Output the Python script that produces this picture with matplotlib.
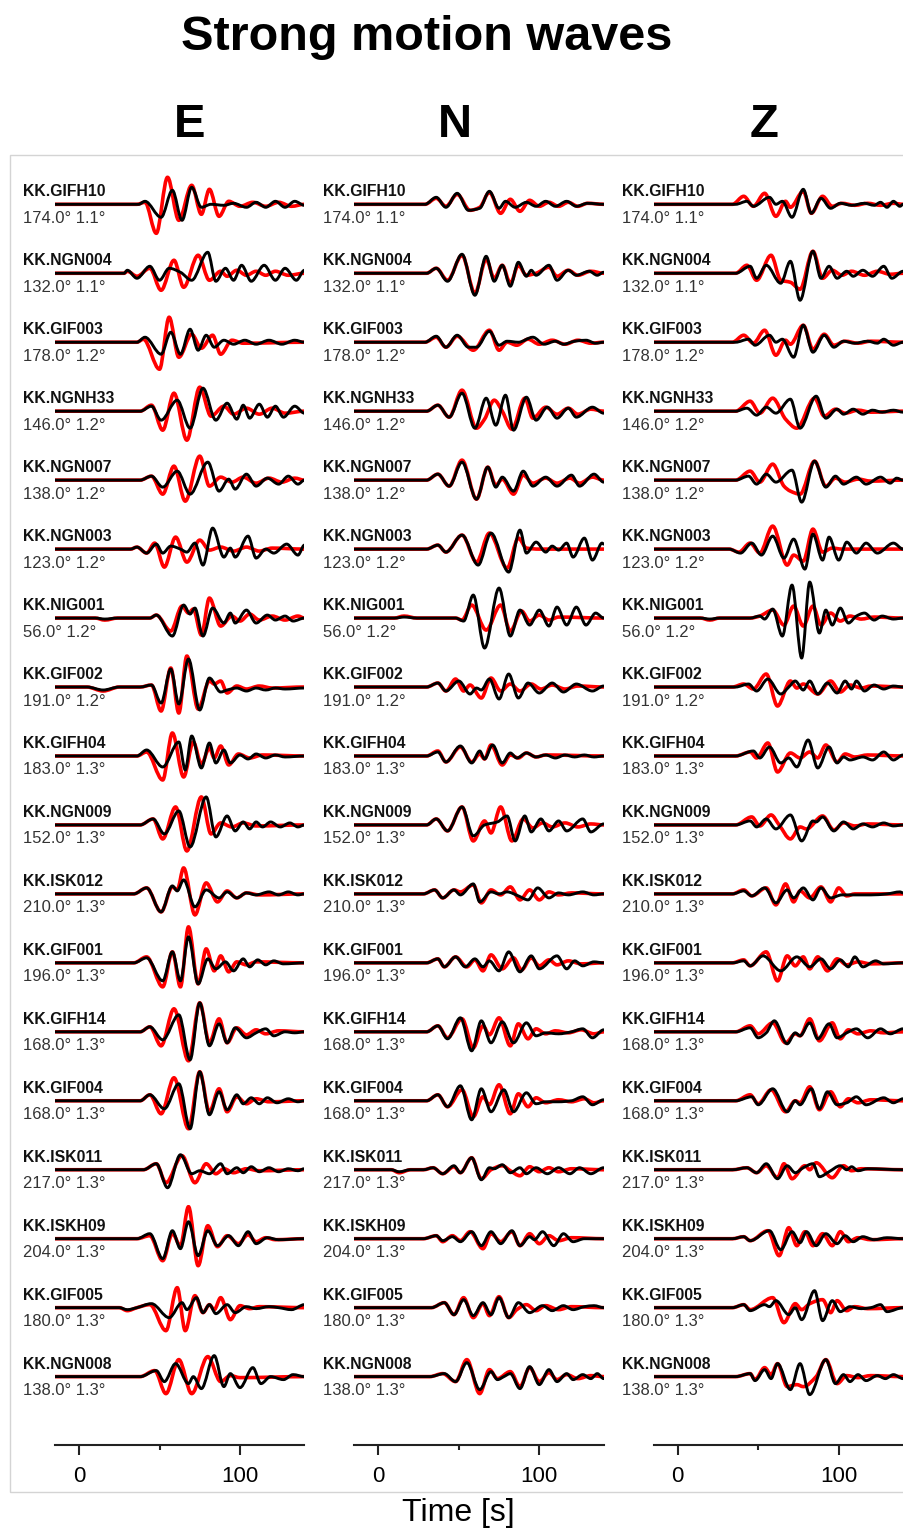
import matplotlib
matplotlib.use("Agg")
import matplotlib.pyplot as plt
from matplotlib.path import Path
from matplotlib.patches import PathPatch, Rectangle
from matplotlib.transforms import blended_transform_factory

plt.rcParams['font.family'] = ['Liberation Sans', 'DejaVu Sans']

stations = ["KK.GIFH10", "KK.NGN004", "KK.GIF003", "KK.NGNH33", "KK.NGN007",
            "KK.NGN003", "KK.NIG001", "KK.GIF002", "KK.GIFH04", "KK.NGN009",
            "KK.ISK012", "KK.GIF001", "KK.GIFH14", "KK.GIF004", "KK.ISK011",
            "KK.ISKH09", "KK.GIF005", "KK.NGN008"]
azimuth = [174.0, 132.0, 178.0, 146.0, 138.0, 123.0, 56.0, 191.0, 183.0,
           152.0, 210.0, 196.0, 168.0, 168.0, 217.0, 204.0, 180.0, 138.0]
distance = [1.1, 1.1, 1.2, 1.2, 1.2, 1.2, 1.2, 1.2, 1.3,
            1.3, 1.3, 1.3, 1.3, 1.3, 1.3, 1.3, 1.3, 1.3]

# record window [s]; each trace is a list of (time, amplitude) turning points
record_start, record_end = -15, 140

e_red = [
    [(36,0),(41,2),(48,-29),(55,27),(62,-16),(70,19),(76,-10),(81,15),(87,-12),(93,3),(100,-2),(108,2),(116,-2),(124,2),(132,-2),(140,0)],
    [(28,0),(30,2),(36,-3),(44,5),(51,-17),(59,13),(65,-14),(74,18),(81,-7),(88,2),(92,-3),(98,3),(104,-2),(110,2),(116,-2),(122,2),(130,-2),(140,0)],
    [(36,0),(40,3),(50,-27),(56,25),(62,-15),(70,8),(76,-6),(83,7),(88,-12),(95,2),(102,-1),(140,0)],
    [(38,0),(45,6),(52,-19),(59,18),(67,-29),(75,24),(82,-5),(90,5),(96,-3),(104,3),(112,-3),(120,3),(128,-2),(140,0)],
    [(38,0),(45,4),(52,-14),(59,14),(66,-21),(75,24),(81,-6),(88,3),(95,-2),(102,3),(110,-3),(118,2),(126,-2),(134,2),(140,0)],
    [(32,0),(36,2),(42,-4),(47,6),(53,-18),(60,12),(67,-13),(75,9),(81,-1),(88,2),(96,-2),(104,2),(112,-2),(120,1),(140,0)],
    [(10,0),(16,-2),(24,0),(44,0),(48,3),(57,-13),(64,12),(68,5),(71,9),(76,-17),(81,20),(88,-8),(95,2),(100,-3),(106,4),(112,-2),(120,2),(128,-2),(136,2),(140,0)],
    [(5,0),(15,-4),(25,0),(38,0),(45,2),(51,-24),(57,19),(62,-26),(67,31),(74,-22),(81,6),(84,3),(88,6),(92,-6),(98,1),(104,-2),(112,1),(120,-1),(140,0)],
    [(36,0),(42,4),(52,-24),(58,23),(65,-21),(71,14),(76,-8),(81,8),(84,-2),(88,10),(93,-9),(99,2),(106,-2),(114,1),(140,0)],
    [(38,0),(46,6),(52,-14),(60,18),(67,-26),(76,28),(82,-9),(88,2),(95,-2),(102,2),(110,-1),(140,0)],
    [(34,0),(42,6),(51,-18),(58,7),(61,4),(65,26),(72,-21),(79,11),(86,-8),(92,3),(98,-4),(104,1),(112,-1),(140,0)],
    [(34,0),(42,6),(52,-24),(58,11),(63,-24),(68,36),(74,-21),(79,14),(84,-8),(88,7),(93,-9),(98,1),(104,-2),(110,1),(140,0)],
    [(38,0),(44,5),(51,-14),(59,23),(68,-29),(75,29),(81,-11),(87,13),(92,-11),(98,4),(104,-3),(110,2),(116,-2),(124,1),(140,0)],
    [(38,0),(44,6),(51,-13),(59,23),(68,-28),(75,29),(81,-11),(87,12),(92,-11),(98,4),(104,-3),(110,2),(118,-1),(140,0)],
    [(40,0),(48,6),(54,-13),(64,14),(72,-13),(79,6),(85,-4),(90,1),(96,-3),(104,1),(112,-1),(140,0)],
    [(36,0),(44,3),(52,-22),(58,5),(63,-7),(68,32),(74,-27),(80,13),(86,-8),(92,3),(99,-5),(105,4),(110,-3),(116,1),(122,-1),(140,0)],
    [(25,0),(30,-3),(36,0),(44,3),(54,-23),(61,20),(66,-23),(72,12),(77,-5),(81,3),(84,-2),(88,10),(94,-12),(100,2),(106,-1),(112,1),(140,0)],
    [(38,0),(47,6),(54,-17),(62,17),(70,-17),(80,20),(88,-5),(94,1),(100,-1),(140,0)],
]

e_black = [
    [(37,0),(41,3),(51,-13),(58,14),(64,-16),(70,17),(76,-3),(82,0),(90,-1),(96,1),(104,-3),(110,2),(116,-3),(122,3),(128,-3),(134,3),(140,-1)],
    [(28,0),(30,3),(36,-5),(44,7),(50,-7),(56,5),(63,1),(70,-7),(80,21),(85,-8),(91,5),(96,-7),(101,8),(107,-8),(115,8),(122,-7),(128,5),(135,-7),(140,3)],
    [(36,0),(41,5),(51,-12),(57,10),(63,-12),(69,13),(74,-8),(79,7),(84,-5),(90,2),(96,-2),(103,2),(110,-2),(118,2),(126,-2),(134,2),(140,0)],
    [(38,0),(45,5),(51,-9),(61,11),(69,-17),(77,23),(85,-9),(92,8),(98,-8),(102,6),(106,-7),(112,7),(117,-6),(122,5),(127,-6),(134,5),(140,-2)],
    [(38,0),(45,4),(52,-7),(61,9),(69,-14),(80,18),(87,-11),(93,1),(97,-9),(104,6),(110,-6),(117,2),(124,-4),(130,4),(136,-4),(140,0)],
    [(32,0),(36,2),(42,-4),(48,5),(52,-4),(57,3),(63,0),(67,-3),(72,6),(77,-16),(83,21),(90,-8),(94,1),(97,-8),(105,13),(110,-9),(116,0),(121,-4),(129,5),(136,-6),(140,4)],
    [(10,0),(16,-1),(24,0),(44,0),(48,3),(58,-18),(65,13),(69,4),(72,10),(77,-18),(83,10),(90,-5),(94,5),(97,-5),(104,8),(110,-5),(117,3),(122,-2),(128,2),(133,-3),(140,0)],
    [(5,0),(15,-3),(25,0),(38,0),(45,2),(51,-16),(57,18),(62,-17),(68,28),(75,-23),(81,9),(88,-5),(92,-3),(98,-1),(104,-4),(110,-1),(116,-3),(122,-1),(128,-2),(140,-1)],
    [(36,0),(42,6),(52,-11),(62,14),(66,-14),(70,20),(76,-12),(81,13),(85,-7),(90,6),(94,-7),(100,1),(105,-3),(110,2),(116,-2),(122,1),(128,-1),(140,0)],
    [(38,0),(46,6),(53,-9),(62,14),(69,-22),(79,28),(85,-12),(92,9),(97,-6),(102,3),(106,-4),(110,3),(114,-2),(119,3),(125,-2),(131,2),(136,-2),(140,0)],
    [(34,0),(42,6),(51,-18),(58,8),(61,3),(65,14),(72,-13),(79,4),(87,-4),(92,2),(98,-4),(104,1),(110,-1),(118,2),(124,-1),(130,2),(136,-1),(140,0)],
    [(34,0),(42,5),(52,-18),(58,11),(63,-18),(68,26),(74,-21),(80,4),(85,-6),(91,1),(96,-8),(102,4),(106,-4),(111,3),(116,-2),(121,2),(127,-1),(140,0)],
    [(38,0),(44,5),(52,-8),(62,17),(69,-28),(75,29),(81,-14),(87,8),(92,-11),(97,4),(104,-6),(110,-1),(116,3),(121,-4),(128,0),(134,-1),(140,0)],
    [(38,0),(44,6),(53,-8),(62,17),(69,-28),(75,29),(81,-14),(87,9),(92,-9),(98,6),(102,-3),(107,3),(112,-3),(117,3),(123,-2),(130,2),(136,-1),(140,0)],
    [(40,0),(48,6),(55,-18),(63,15),(70,-4),(75,-1),(81,-4),(88,6),(92,-4),(98,2),(102,-3),(107,3),(112,-2),(118,2),(124,-2),(130,1),(136,-1),(140,1)],
    [(36,0),(44,5),(52,-20),(58,8),(63,-10),(68,17),(74,-17),(80,8),(86,-7),(93,3),(99,-7),(105,7),(110,-5),(117,1),(124,-1),(140,0)],
    [(25,0),(30,-2),(36,0),(45,4),(56,-10),(64,5),(67,-2),(73,10),(77,-5),(81,3),(85,-6),(92,3),(97,-5),(104,1),(110,-1),(118,1),(124,0),(132,-2),(140,3)],
    [(38,0),(48,6),(53,-5),(60,13),(68,-7),(71,0),(76,-12),(84,21),(90,-10),(94,3),(100,-11),(108,9),(113,-7),(119,0),(127,-3),(133,2),(140,0)],
]

n_red = [
    [(29,0),(36,6),(42,-2),(49,10),(57,-6),(63,-3),(69,12),(76,-9),(82,5),(88,-7),(94,4),(100,-2),(106,2),(112,-2),(118,2),(124,-2),(130,1),(140,0)],
    [(30,0),(36,5),(43,-7),(52,18),(60,-20),(67,14),(72,-5),(77,8),(82,-10),(87,8),(92,-2),(98,0),(106,6),(111,-3),(118,3),(124,-2),(132,2),(140,0)],
    [(29,0),(36,5),(42,-5),(49,6),(59,-8),(69,12),(75,-8),(80,0),(86,-3),(93,3),(100,-2),(108,2),(116,-2),(124,2),(132,-1),(140,0)],
    [(30,0),(37,6),(44,-6),(52,21),(61,-17),(66,-8),(72,11),(77,0),(83,-18),(91,13),(96,-7),(104,4),(111,-3),(118,3),(124,-3),(132,2),(140,0)],
    [(30,0),(37,6),(44,-6),(52,20),(61,-19),(68,13),(73,-5),(77,1),(84,-14),(90,5),(96,-3),(104,2),(111,-3),(119,2),(125,-3),(133,3),(140,0)],
    [(30,0),(37,4),(42,-3),(52,14),(61,-13),(69,16),(80,-19),(87,11),(92,1),(100,0),(140,0)],
    [(10,0),(16,2),(24,0),(48,0),(52,-2),(58,13),(67,-12),(76,13),(82,-13),(89,7),(94,-3),(100,3),(106,-2),(112,1),(140,0)],
    [(30,0),(37,4),(42,-4),(48,8),(53,-4),(57,2),(64,-11),(70,9),(76,-4),(82,3),(88,-4),(95,3),(101,-2),(108,2),(116,-2),(124,1),(140,0)],
    [(30,0),(37,5),(42,-6),(51,9),(58,-6),(63,2),(66,-3),(70,11),(77,-9),(82,1),(87,-2),(92,3),(98,-1),(104,1),(140,0)],
    [(30,0),(36,6),(43,-6),(52,18),(59,-16),(66,4),(70,-8),(76,18),(83,-16),(90,6),(96,-3),(102,2),(108,-2),(116,2),(124,-2),(132,1),(140,0)],
    [(28,0),(35,4),(40,-4),(47,4),(51,2),(59,9),(64,-9),(70,4),(76,-1),(82,7),(88,-6),(94,4),(100,-6),(106,2),(112,-1),(120,1),(140,0)],
    [(30,0),(37,4),(41,-4),(48,6),(55,-4),(60,3),(65,-8),(70,8),(77,-6),(84,5),(89,-7),(95,5),(100,-3),(106,3),(111,-2),(118,2),(126,-1),(140,0)],
    [(30,0),(37,6),(43,-6),(52,13),(59,-16),(65,6),(69,-3),(75,14),(82,-14),(87,8),(93,-7),(98,3),(104,-2),(110,1),(118,-1),(126,2),(134,-2),(140,0)],
    [(30,0),(37,6),(43,-6),(52,11),(59,-16),(65,4),(69,-4),(75,16),(82,-13),(87,7),(93,-6),(98,3),(104,-2),(112,1),(120,-1),(128,2),(134,-2),(140,0)],
    [(8,0),(13,-3),(20,0),(28,0),(34,2),(40,-4),(47,3),(51,-3),(58,12),(64,-9),(70,0),(77,4),(82,-1),(88,-6),(94,3),(100,-2),(106,2),(112,-2),(120,1),(140,0)],
    [(28,0),(36,3),(40,-3),(46,3),(51,-2),(57,7),(65,-10),(70,5),(76,-3),(83,7),(88,-7),(94,5),(100,-5),(106,3),(112,-2),(120,1),(140,0)],
    [(33,0),(41,5),(47,-7),(53,10),(59,-10),(65,4),(69,-8),(75,11),(81,-10),(86,-2),(92,3),(98,-3),(104,2),(112,-2),(120,1),(140,0)],
    [(32,0),(40,3),(48,-5),(55,17),(63,-17),(69,7),(74,-2),(82,5),(88,-10),(94,9),(100,-5),(106,4),(111,-3),(117,2),(124,-2),(132,1),(140,0)],
]

n_black = [
    [(29,0),(36,7),(42,-3),(49,11),(56,-6),(63,-4),(69,13),(75,-4),(79,3),(85,-3),(92,2),(98,-2),(104,3),(110,-2),(117,3),(123,-2),(130,1),(140,0)],
    [(30,0),(36,5),(43,-8),(52,19),(60,-22),(67,17),(72,-8),(77,8),(82,-13),(87,11),(92,-3),(95,3),(98,-2),(106,8),(111,-7),(118,3),(123,-2),(131,2),(136,-2),(140,1)],
    [(29,0),(36,6),(42,-5),(49,7),(56,-5),(61,-5),(69,11),(75,-3),(80,1),(87,0),(96,5),(103,-2),(110,1),(115,-2),(122,1),(129,2),(135,-1),(140,0)],
    [(30,0),(37,6),(44,-6),(52,18),(60,-17),(67,13),(73,-14),(79,16),(84,-19),(92,14),(98,-9),(105,4),(111,-7),(118,3),(123,-6),(133,4),(140,-2)],
    [(30,0),(37,6),(44,-6),(52,18),(61,-19),(68,13),(73,-7),(77,3),(84,-11),(90,9),(96,-6),(104,3),(111,-6),(120,5),(125,-6),(134,6),(140,-2)],
    [(30,0),(37,4),(42,-3),(52,14),(62,-16),(70,16),(81,-23),(88,19),(92,-4),(98,7),(104,-3),(108,3),(112,-1),(117,6),(121,-8),(128,11),(133,-11),(139,6),(140,5)],
    [(10,0),(16,1),(24,0),(48,0),(53,-3),(59,23),(66,-30),(75,30),(82,-18),(88,8),(94,-7),(100,8),(106,-8),(111,11),(117,-7),(123,11),(129,-7),(135,5),(140,0)],
    [(30,0),(37,4),(42,-4),(50,6),(57,-7),(61,-1),(64,-3),(69,8),(75,-12),(81,13),(87,-11),(93,4),(100,-6),(108,4),(115,-5),(123,3),(133,-4),(140,1)],
    [(30,0),(37,4),(42,-6),(51,10),(58,-7),(63,5),(66,-3),(71,11),(77,-7),(82,3),(86,-2),(92,3),(98,-1),(104,1),(110,-2),(116,1),(122,-1),(128,1),(134,-1),(140,0)],
    [(30,0),(36,6),(43,-6),(52,18),(59,-11),(66,0),(74,3),(80,9),(85,-16),(91,9),(95,-7),(101,6),(106,-6),(112,4),(117,-6),(127,6),(132,-7),(140,1)],
    [(28,0),(35,4),(40,-4),(47,4),(51,-1),(59,10),(63,-8),(70,2),(75,0),(80,2),(87,-2),(93,-6),(99,6),(106,-4),(112,1),(118,-1),(127,2),(134,-1),(140,0)],
    [(30,0),(37,4),(41,-4),(48,6),(54,-4),(60,4),(65,-4),(69,2),(75,-8),(81,11),(88,-9),(95,7),(100,-6),(111,7),(117,-6),(122,2),(127,-3),(134,1),(140,0)],
    [(30,0),(37,6),(43,-7),(51,14),(58,-19),(64,11),(70,-11),(77,10),(84,-11),(92,9),(98,-4),(104,-1),(112,-2),(120,0),(127,3),(133,-6),(140,2)],
    [(30,0),(37,6),(43,-6),(51,15),(58,-19),(64,12),(70,-11),(78,11),(84,-11),(92,8),(98,-3),(104,-1),(112,-1),(120,0),(127,4),(133,-4),(140,1)],
    [(8,0),(13,-2),(20,0),(28,0),(34,2),(40,-4),(47,4),(51,-3),(58,12),(64,-10),(69,2),(72,1),(77,5),(82,-3),(88,2),(92,-4),(98,2),(105,-4),(112,2),(119,-4),(125,2),(132,-4),(140,2)],
    [(28,0),(36,3),(40,-2),(46,2),(51,-3),(58,7),(64,-7),(70,7),(76,-5),(83,8),(88,-7),(94,2),(97,-1),(102,7),(109,-7),(115,5),(121,-3),(128,0),(140,0)],
    [(33,0),(41,5),(47,-7),(53,8),(59,-8),(65,5),(70,-7),(75,10),(81,-10),(87,5),(94,-5),(102,2),(108,-3),(115,2),(121,-2),(128,1),(134,2),(140,0)],
    [(32,0),(41,3),(48,-5),(55,14),(63,-13),(70,5),(74,-3),(78,0),(82,3),(88,-12),(94,10),(100,-8),(106,7),(111,-5),(117,3),(121,-3),(127,2),(132,-2),(136,3),(140,-2)],
]

z_red = [
    [(34,0),(41,8),(47,-2),(54,11),(61,-12),(67,3),(70,-3),(78,13),(83,-9),(90,8),(96,-2),(102,1),(110,-1),(118,1),(126,-1),(134,1),(140,0)],
    [(36,0),(43,8),(49,-7),(58,18),(64,-7),(70,-9),(76,-16),(84,22),(90,-5),(96,3),(102,-2),(108,2),(116,-2),(124,2),(132,-1),(140,0)],
    [(34,0),(41,7),(47,-1),(54,12),(61,-13),(67,2),(70,-2),(78,17),(84,-7),(91,8),(97,-3),(104,1),(112,-1),(120,1),(140,0)],
    [(36,0),(45,10),(51,-2),(59,13),(67,-8),(74,-17),(85,13),(91,-5),(98,2),(104,-2),(112,1),(120,-1),(140,0)],
    [(36,0),(45,9),(51,-2),(59,16),(66,-6),(70,-11),(76,-14),(85,19),(92,-6),(98,2),(104,-2),(112,1),(120,-1),(140,0)],
    [(32,0),(38,-3),(45,6),(51,-4),(59,23),(68,-16),(72,-6),(78,-12),(84,20),(90,-3),(96,1),(102,0),(140,0)],
    [(14,0),(20,-2),(26,0),(45,0),(51,2),(59,8),(66,-7),(72,12),(78,-8),(84,12),(89,-7),(95,5),(101,-3),(107,2),(114,-1),(122,1),(140,0)],
    [(34,0),(41,3),(47,-2),(55,13),(62,-19),(70,6),(74,-1),(78,3),(87,-7),(95,6),(101,-5),(107,2),(114,-1),(120,1),(140,0)],
    [(36,0),(45,4),(49,-2),(56,13),(62,-16),(70,3),(76,-2),(82,4),(87,-2),(92,11),(99,-6),(104,2),(110,-1),(118,1),(140,0)],
    [(36,0),(46,8),(51,-1),(58,10),(63,0),(70,-14),(76,-2),(80,-4),(90,9),(97,-5),(103,2),(110,-1),(118,1),(140,0)],
    [(34,0),(41,4),(46,-2),(55,6),(61,-11),(67,10),(72,-8),(76,3),(82,-4),(89,7),(95,-8),(100,6),(105,-2),(110,0),(140,0)],
    [(34,0),(41,3),(45,-3),(55,11),(62,-18),(68,7),(73,-3),(78,6),(82,-6),(87,6),(93,-8),(99,4),(105,-2),(112,1),(120,-1),(140,0)],
    [(36,0),(45,6),(50,-2),(59,9),(67,-11),(73,-2),(76,-4),(82,13),(88,-9),(96,9),(101,-7),(106,2),(112,-2),(120,1),(128,-1),(140,0)],
    [(36,0),(45,6),(50,-3),(58,11),(67,-11),(73,0),(76,-2),(82,14),(88,-9),(95,9),(101,-6),(106,2),(112,-2),(120,1),(140,0)],
    [(34,0),(43,2),(49,-3),(55,4),(62,-8),(66,6),(71,-9),(79,4),(82,0),(86,7),(96,-8),(103,4),(108,-1),(114,1),(140,0)],
    [(34,0),(41,2),(45,-2),(56,8),(63,-17),(69,11),(74,-7),(79,7),(84,-7),(90,5),(96,-7),(101,7),(106,-3),(112,1),(120,-1),(140,0)],
    [(34,0),(41,3),(45,-2),(59,10),(66,-15),(73,4),(77,-2),(82,4),(90,8),(95,-5),(99,7),(105,-3),(110,1),(118,-1),(140,0)],
    [(36,0),(45,3),(48,-3),(54,9),(58,2),(62,13),(68,-10),(74,-8),(78,-10),(86,0),(92,17),(99,-7),(105,1),(112,-1),(120,1),(140,0)],
]

z_black = [
    [(36,0),(43,3),(47,-2),(57,7),(61,0),(65,3),(71,-13),(78,15),(83,-9),(89,6),(95,-4),(101,1),(108,-1),(116,1),(122,-1),(126,2),(130,-3),(134,3),(138,-2),(140,0)],
    [(36,0),(45,7),(49,-5),(55,8),(64,-10),(70,12),(76,-27),(84,22),(89,-5),(94,7),(99,-5),(105,2),(109,-3),(115,3),(121,-3),(128,7),(133,-5),(140,2)],
    [(36,0),(44,3),(48,-3),(57,7),(61,0),(65,3),(72,-15),(78,17),(84,-10),(91,7),(97,-5),(103,1),(110,-1),(118,1),(124,-1),(128,3),(134,-3),(140,0)],
    [(36,0),(43,3),(49,-4),(55,4),(61,-2),(70,12),(76,-17),(86,15),(92,-7),(99,2),(103,-3),(109,2),(115,-3),(121,1),(127,-1),(134,1),(140,-1)],
    [(36,0),(44,4),(49,-4),(55,6),(61,-2),(71,10),(77,-22),(85,19),(92,-7),(98,4),(103,-4),(111,3),(117,-4),(126,3),(132,-3),(136,2),(140,0)],
    [(32,0),(39,-4),(46,6),(52,-6),(59,13),(66,-9),(72,10),(79,-20),(84,15),(90,-11),(94,12),(100,-11),(105,7),(111,-4),(117,6),(124,-4),(134,6),(140,0)],
    [(14,0),(20,-1),(26,0),(45,0),(51,2),(54,-1),(59,9),(65,-18),(71,33),(77,-40),(82,36),(88,-15),(92,8),(96,-7),(101,10),(106,-5),(111,2),(116,5),(122,-2),(127,2),(134,-1),(140,0)],
    [(36,0),(44,3),(49,-4),(56,8),(64,-7),(69,0),(73,6),(78,-3),(82,6),(87,-7),(93,4),(99,-6),(104,6),(108,-2),(111,6),(116,-4),(122,2),(128,-2),(134,1),(140,0)],
    [(36,0),(47,5),(51,-2),(57,9),(64,-7),(69,-2),(74,-11),(81,16),(87,-12),(94,9),(99,-7),(103,-1),(107,-4),(115,-1),(121,-4),(128,4),(134,-4),(140,1)],
    [(36,0),(45,4),(49,-2),(55,6),(61,-4),(70,10),(77,-16),(84,4),(86,3),(90,8),(97,-6),(103,3),(109,-4),(115,1),(121,-2),(128,2),(134,-1),(140,0)],
    [(34,0),(41,3),(46,-2),(54,6),(61,-9),(68,4),(72,-4),(78,6),(84,-6),(89,6),(95,-4),(102,-1),(110,-1),(120,-1),(130,0),(138,2),(140,1)],
    [(34,0),(41,2),(45,-3),(53,7),(64,-8),(74,6),(82,-4),(89,4),(95,-6),(101,3),(106,-4),(110,6),(115,-4),(123,2),(128,-1),(140,0)],
    [(36,0),(45,4),(50,-6),(55,-1),(60,11),(68,-12),(73,-1),(76,-4),(82,9),(87,-7),(94,8),(99,-6),(105,-1),(111,3),(118,-6),(126,3),(132,-2),(140,3)],
    [(36,0),(46,4),(50,-4),(59,12),(68,-11),(73,0),(76,-4),(83,12),(88,-8),(93,9),(99,-4),(105,-2),(111,4),(117,-4),(128,3),(134,-2),(140,2)],
    [(34,0),(43,2),(49,-3),(55,6),(62,-9),(68,4),(73,-3),(78,2),(84,6),(88,-7),(94,-2),(101,4),(105,0),(108,3),(112,-1),(118,1),(140,0)],
    [(34,0),(41,2),(45,-2),(57,8),(64,-11),(71,7),(76,-4),(80,7),(86,-7),(92,5),(99,-5),(104,3),(109,-3),(115,2),(122,-1),(130,1),(140,0)],
    [(34,0),(41,3),(45,-3),(54,3),(57,1),(61,7),(69,-7),(73,0),(77,-12),(85,17),(90,-13),(96,7),(101,-4),(107,1),(114,-1),(120,0),(126,3),(130,-4),(140,0)],
    [(36,0),(45,3),(48,-4),(54,7),(58,-2),(62,13),(70,-13),(76,13),(82,-18),(92,17),(98,-7),(103,2),(107,-5),(112,2),(117,-4),(124,1),(129,-2),(134,2),(140,-2)],
]

components = ["E", "N", "Z"]
red_traces = [e_red, n_red, z_red]
black_traces = [e_black, n_black, z_black]


def trace_path(points, offset):
    """Smooth path through the turning points (flat tangent at peaks)."""
    pts = [(record_start, 0)] + list(points)
    if pts[-1][0] < record_end:
        pts.append((record_end, 0))
    t = [p[0] for p in pts]
    a = [p[1] + offset for p in pts]
    n = len(t)
    slope = [0.0] * n
    for i in range(1, n - 1):
        d0 = (a[i] - a[i - 1]) / (t[i] - t[i - 1])
        d1 = (a[i + 1] - a[i]) / (t[i + 1] - t[i])
        if d0 * d1 > 0:
            slope[i] = 2.0 / (1.0 / d0 + 1.0 / d1)
    verts = [(t[0], a[0])]
    codes = [Path.MOVETO]
    for i in range(n - 1):
        h = (t[i + 1] - t[i]) / 3.0
        verts += [(t[i] + h, a[i] + slope[i] * h),
                  (t[i + 1] - h, a[i + 1] - slope[i + 1] * h),
                  (t[i + 1], a[i + 1])]
        codes += [Path.CURVE4] * 3
    return Path(verts, codes)


W, H = 904, 1531
fig = plt.figure(figsize=(W / 100, H / 100), dpi=100)

# light frame around the panel block
fig.add_artist(Rectangle((10 / W, 1 - 1492 / H), 905 / W, (1492 - 155) / H,
                         transform=fig.transFigure, fill=False,
                         ec="#d4d4d4", lw=1.0))

fig.text(427 / W, 1 - 50 / H, "Strong motion waves", ha="center",
         va="baseline", fontsize=35, fontweight="bold")

spacing = 68.96          # vertical distance between stations
px_per_s = 1.61
col_left = [54.85, 354.15, 653.55]
header_x = [190, 455, 764]
ax_top, ax_bottom = 160, 1445
first_base = 204.3

for c, comp in enumerate(components):
    width = (record_end - record_start) * px_per_s
    ax = fig.add_axes([col_left[c] / W, 1 - ax_bottom / H, width / W,
                       (ax_bottom - ax_top) / H])
    ax.set_xlim(record_start, record_end)
    ax.set_ylim(-(ax_bottom - first_base), first_base - ax_top)
    ax.patch.set_alpha(0)
    for side in ("top", "left", "right"):
        ax.spines[side].set_visible(False)
    ax.spines["bottom"].set_linewidth(1.5)
    ax.spines["bottom"].set_color("#222222")
    ax.set_yticks([])
    ax.set_xticks([0, 100])
    ax.set_xticks([50], minor=True)
    ax.tick_params(axis="x", which="major", length=7, width=1.5,
                   color="#222222", labelsize=16, pad=8)
    ax.tick_params(axis="x", which="minor", length=3.5, width=1.5,
                   color="#222222")

    lab = blended_transform_factory(fig.transFigure, ax.transData)
    for i, name in enumerate(stations):
        base = -i * spacing
        ax.add_patch(PathPatch(trace_path(red_traces[c][i], base),
                               fill=False, ec="#ff0000", lw=2.6,
                               capstyle="round", joinstyle="round"))
        ax.add_patch(PathPatch(trace_path(black_traces[c][i], base),
                               fill=False, ec="black", lw=2.1,
                               capstyle="round", joinstyle="round"))
        lx = (col_left[c] - 31.5) / W
        ax.text(lx, base + 12.5, name, transform=lab, ha="left",
                va="center", fontsize=11.3, fontweight="bold", color="#111111")
        ax.text(lx, base - 14, f"{azimuth[i]:.1f}\u00b0 {distance[i]:.1f}\u00b0",
                transform=lab, ha="left", va="center", fontsize=12,
                color="#333333")

    fig.text(header_x[c] / W, 1 - 137 / H, comp, ha="center", va="baseline",
             fontsize=34, fontweight="bold")

fig.text(458 / W, 1 - 1521 / H, "Time [s]", ha="center", va="baseline",
         fontsize=23)

fig.savefig("out.png", dpi=100)
